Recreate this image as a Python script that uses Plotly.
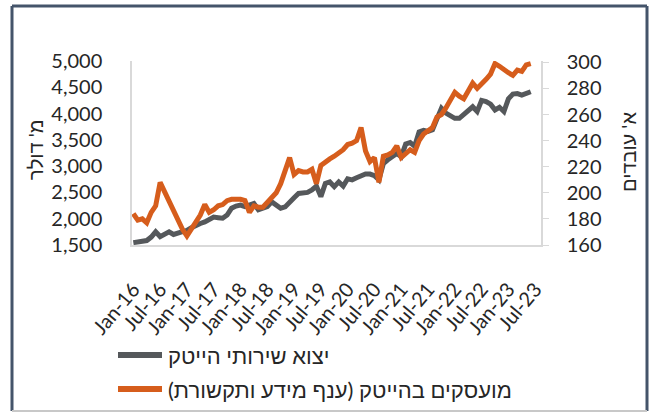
import plotly.graph_objects as go

# Monthly series, Jan 2016 - Jun 2023
months = list(range(90))

# High-tech services exports, million USD (left axis)
exports = [
    1545, 1560, 1570, 1585, 1650, 1750, 1660, 1700, 1750, 1700, 1720, 1750,
    1780, 1830, 1880, 1910, 1940, 1975, 2030, 2020, 2010, 2070, 2200, 2240,
    2260, 2230, 2270, 2290, 2170, 2210, 2230, 2320, 2250, 2200, 2225, 2330,
    2400, 2480, 2480, 2500, 2546, 2620, 2420, 2670, 2700, 2610, 2700, 2620,
    2760, 2740, 2780, 2820, 2850, 2850, 2820, 2740, 3050, 3120, 3190, 3240,
    3180, 3420, 3450, 3380, 3650, 3680, 3660, 3690, 3900, 4100, 4010, 3970,
    3910, 3910, 3980, 4060, 4130, 4040, 4250, 4230, 4180, 4070, 4120, 4040,
    4280, 4370, 4380, 4350, 4385, 4415,
]

# Employees in high-tech (information & communication), thousands (right axis)
employees = [
    184, 179, 180, 177, 185, 190, 208, 201, 193, 185, 179, 172,
    167, 172, 178, 183, 191, 185, 187, 190, 191, 194, 195, 195,
    195, 194, 185, 190, 189, 189, 193, 196, 200, 207, 218, 227,
    214, 217, 216, 216, 218, 207, 221, 224, 226, 228, 230, 233,
    237, 238, 240, 250, 232, 224, 227, 208, 228, 229, 231, 236,
    227, 230, 233, 231, 240, 245, 248, 250, 258, 260, 265, 272,
    277, 274, 272, 278, 284, 280, 283, 287, 291, 299, 297, 294,
    292, 290, 294, 293, 298, 299,
]

tick_pos = list(range(0, 91, 6))
tick_text = ["Jan-16", "Jul-16", "Jan-17", "Jul-17", "Jan-18", "Jul-18",
             "Jan-19", "Jul-19", "Jan-20", "Jul-20", "Jan-21", "Jul-21",
             "Jan-22", "Jul-22", "Jan-23", "Jul-23"]

left_ticks = [1500, 2000, 2500, 3000, 3500, 4000, 4500, 5000]
right_ticks = [160, 180, 200, 220, 240, 260, 280, 300]

name_exports = "יצוא שירותי הייטק"
name_employees = "מועסקים בהייטק (ענף מידע ותקשורת)"

GRAY = "#55585b"
ORANGE = "#d65d1c"
AXIS = "#d9d9d9"
TEXT = "#262626"
FONT = "Lato, 'Liberation Sans', 'DejaVu Sans', sans-serif"

fig = go.Figure()
fig.add_trace(go.Scatter(x=months, y=exports, mode="lines", name=name_exports,
                         line=dict(color=GRAY, width=5), yaxis="y"))
fig.add_trace(go.Scatter(x=months, y=employees, mode="lines", name=name_employees,
                         line=dict(color=ORANGE, width=5), yaxis="y2"))

W, H = 651, 414
L, R, T, B = 132, 110, 61, 169
pw, ph = W - L - R, H - T - B


def px(x):
    return (x - L) / pw


def py(y):
    return (H - B - y) / ph


shapes = []
# outer frame
frame_dark = "#44546a"
shapes.append(dict(type="line", xref="paper", yref="paper", x0=px(12), x1=px(12),
                   y0=py(411), y1=py(6), line=dict(color=frame_dark, width=3)))
shapes.append(dict(type="line", xref="paper", yref="paper", x0=px(12), x1=px(647),
                   y0=py(6), y1=py(6), line=dict(color=frame_dark, width=3)))
shapes.append(dict(type="line", xref="paper", yref="paper", x0=px(647), x1=px(647),
                   y0=py(6), y1=py(411), line=dict(color=frame_dark, width=3)))
shapes.append(dict(type="line", xref="paper", yref="paper", x0=px(12), x1=px(647),
                   y0=py(411), y1=py(411), line=dict(color="#c8c8c8", width=2)))

# legend samples
for yy, col in [(355, GRAY), (389, ORANGE)]:
    shapes.append(dict(type="line", xref="paper", yref="paper", x0=px(118), x1=px(162),
                       y0=py(yy), y1=py(yy), line=dict(color=col, width=6)))

annotations = [
    dict(text=name_exports + "\u200f", xref="paper", yref="paper", x=px(166), y=py(355),
         xanchor="left", yanchor="middle", showarrow=False,
         font=dict(family=FONT, size=22, color=TEXT)),
    dict(text=name_employees + "\u200f", xref="paper", yref="paper", x=px(166), y=py(389),
         xanchor="left", yanchor="middle", showarrow=False,
         font=dict(family=FONT, size=22, color=TEXT)),
    dict(text="מ' דולר", xref="paper", yref="paper", x=px(35), y=py(150),
         xanchor="center", yanchor="middle", textangle=-90, showarrow=False,
         font=dict(family=FONT, size=20, color=TEXT)),
    dict(text="א' עובדים", xref="paper", yref="paper", x=px(628), y=py(152),
         xanchor="center", yanchor="middle", textangle=-90, showarrow=False,
         font=dict(family=FONT, size=20, color=TEXT)),
]

fig.update_layout(
    width=W, height=H,
    margin=dict(l=L, r=R, t=T, b=B, autoexpand=False),
    paper_bgcolor="white", plot_bgcolor="white",
    showlegend=False,
    font=dict(family=FONT, color=TEXT),
    xaxis=dict(range=[-0.3, 91.3], tickmode="array", tickvals=tick_pos, ticktext=tick_text,
               tickangle=-50, showgrid=False, zeroline=False, showline=True,
               linecolor=AXIS, linewidth=1.5, ticks="", ticklabelstandoff=23,
               tickfont=dict(size=20, color=TEXT)),
    yaxis=dict(range=[1500, 5000], tickmode="array", tickvals=left_ticks, tickformat=",",
               showgrid=False, zeroline=False, showline=True, linecolor=AXIS, linewidth=1.5,
               ticks="", ticklabelstandoff=24, tickfont=dict(size=20, color=TEXT)),
    yaxis2=dict(range=[160, 301], tickmode="array", tickvals=right_ticks, overlaying="y",
                side="right", showgrid=False, zeroline=False, showline=True, linecolor=AXIS,
                linewidth=1.5, ticks="outside", ticklen=6, tickcolor=AXIS,
                ticklabelstandoff=14, tickfont=dict(size=20, color=TEXT)),
    shapes=shapes,
    annotations=annotations,
)

fig.write_html("out.html")
